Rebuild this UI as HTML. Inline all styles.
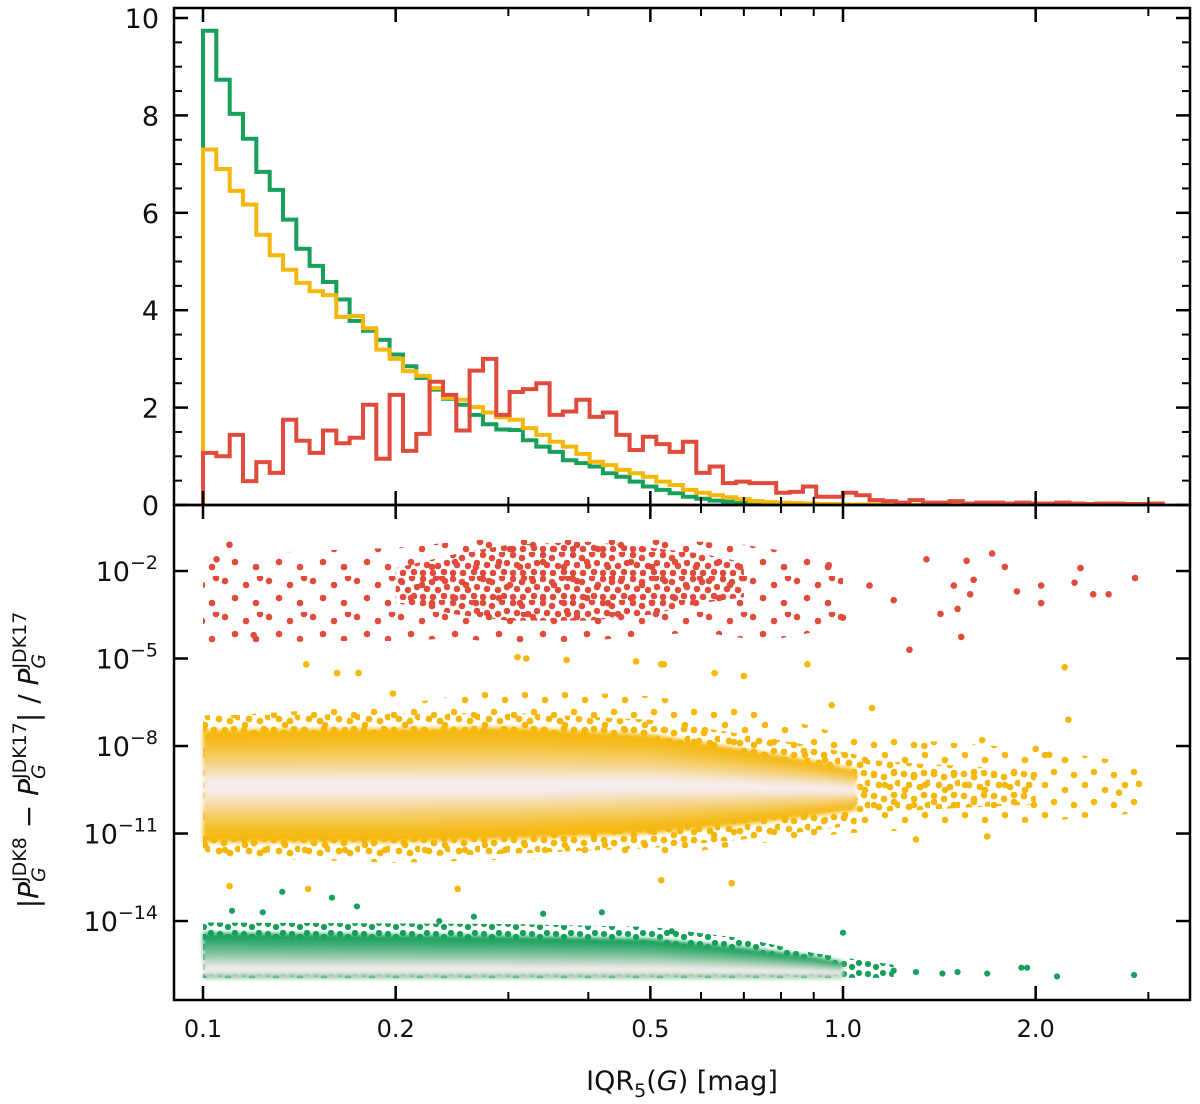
<!DOCTYPE html>
<html><head><meta charset="utf-8"><style>
html,body{margin:0;padding:0;background:#fff;}
#wrap{position:relative;width:1200px;height:1104px;overflow:hidden;font-family:"Liberation Sans","DejaVu Sans",sans-serif;}
svg text{font-family:"DejaVu Sans","Liberation Sans",sans-serif;fill:#111;}
#ytitle{position:absolute;left:30px;top:760px;transform:translate(-50%,-50%) rotate(-90deg);white-space:nowrap;font-family:"DejaVu Sans","Liberation Sans",sans-serif;font-size:28px;color:#111;}
.ms{display:inline-block;vertical-align:middle;line-height:1;position:relative;}
.ms .up{display:block;font-size:19px;font-style:normal;}
.ms .dn{display:block;font-size:19px;font-style:italic;}
</style></head><body>
<div id="wrap">
<svg id="svg" width="1200" height="1104" xmlns="http://www.w3.org/2000/svg">
<defs>
<filter id="blur" x="-2%" y="-20%" width="104%" height="140%"><feGaussianBlur stdDeviation="2"/></filter>
<pattern id="pRedDense" width="30" height="24" patternUnits="userSpaceOnUse">
<circle cx="3" cy="3" r="3.3" fill="#e04b3c"/><circle cx="12" cy="6" r="3.3" fill="#e04b3c"/><circle cx="22" cy="2" r="3.3" fill="#e04b3c"/><circle cx="7" cy="13" r="3.3" fill="#e04b3c"/><circle cx="18" cy="14" r="3.3" fill="#e04b3c"/><circle cx="27" cy="11" r="3.3" fill="#e04b3c"/><circle cx="3" cy="21" r="3.3" fill="#e04b3c"/><circle cx="13" cy="21" r="3.3" fill="#e04b3c"/><circle cx="24" cy="20" r="3.3" fill="#e04b3c"/></pattern>
<pattern id="pRedSparse" width="44" height="36" patternUnits="userSpaceOnUse">
<circle cx="5" cy="5" r="3.3" fill="#e04b3c"/><circle cx="26" cy="9" r="3.3" fill="#e04b3c"/><circle cx="15" cy="22" r="3.3" fill="#e04b3c"/><circle cx="36" cy="27" r="3.3" fill="#e04b3c"/><circle cx="40" cy="2" r="3.3" fill="#e04b3c"/></pattern>
<pattern id="pYel" width="30" height="22" patternUnits="userSpaceOnUse">
<circle cx="4" cy="4" r="3.4" fill="#f5b70a"/><circle cx="14" cy="7" r="3.4" fill="#f5b70a"/><circle cx="24" cy="3" r="3.4" fill="#f5b70a"/><circle cx="9" cy="15" r="3.4" fill="#f5b70a"/><circle cx="20" cy="17" r="3.4" fill="#f5b70a"/><circle cx="28" cy="13" r="3.4" fill="#f5b70a"/></pattern>
<pattern id="pYelSparse" width="40" height="30" patternUnits="userSpaceOnUse">
<circle cx="5" cy="5" r="3.3" fill="#f5b70a"/><circle cx="25" cy="10" r="3.3" fill="#f5b70a"/><circle cx="14" cy="22" r="3.3" fill="#f5b70a"/><circle cx="34" cy="25" r="3.3" fill="#f5b70a"/></pattern>
<pattern id="pGrn" width="24" height="10" patternUnits="userSpaceOnUse"><circle cx="4" cy="4" r="3.1" fill="#16a05a"/><circle cx="12" cy="7" r="3.1" fill="#16a05a"/><circle cx="19" cy="3" r="3.1" fill="#16a05a"/></pattern>
<clipPath id="clipBot"><rect x="175" y="506" width="1014" height="493"/></clipPath>
<clipPath id="clipTop"><rect x="175" y="9" width="1014" height="495"/></clipPath>
</defs>
<g id="gTop" clip-path="url(#clipTop)"></g>
<g id="gBot" clip-path="url(#clipBot)"></g>
<g id="gAxes"></g>
</svg>
<div id="ytitle">|<i>P</i><span class="ms"><span class="up">JDK8</span><span class="dn">G</span></span> − <i>P</i><span class="ms"><span class="up">JDK17</span><span class="dn">G</span></span>| / <i>P</i><span class="ms"><span class="up">JDK17</span><span class="dn">G</span></span></div>
</div>
<script>
// ---------- data ----------
const binStart = 0.1;          // first bin edge (mag)
const binLogWidth = 0.02083;   // bin width in dex
const histGreen = [9.74,8.73,8.03,7.52,6.84,6.47,5.86,5.26,4.91,4.58,4.22,3.78,3.58,3.39,3.09,2.85,2.61,2.37,2.18,2.06,1.85,1.66,1.55,1.54,1.33,1.2,1.09,0.92,0.86,0.79,0.65,0.58,0.48,0.38,0.31,0.24,0.17,0.13,0.09,0.07,0.05,0.03,0.02,0.01,0.01,0.01,0,0,0,0,0,0,0,0,0,0,0,0,0,0,0,0,0,0,0,0,0,0,0,0,0,0];
const histYellow = [7.3,6.9,6.45,6.17,5.55,5.13,4.83,4.56,4.39,4.31,3.86,3.88,3.63,3.19,3.0,2.75,2.65,2.4,2.2,2.16,2.01,1.9,1.8,1.75,1.58,1.44,1.3,1.2,1.05,0.89,0.82,0.72,0.65,0.58,0.48,0.41,0.31,0.25,0.2,0.16,0.12,0.08,0.06,0.05,0.04,0.03,0.02,0.02,0.01,0.01,0.01,0.01,0,0,0,0,0,0,0,0,0,0,0,0,0,0,0,0,0,0,0,0];
const histRed = [1.07,1.0,1.44,0.49,0.88,0.66,1.75,1.32,1.07,1.53,1.27,1.38,2.06,0.95,2.26,1.11,1.46,2.53,2.26,1.53,2.76,3.0,1.85,2.32,2.38,2.5,1.85,1.92,2.16,1.81,1.9,1.44,1.13,1.4,1.25,1.09,1.3,0.66,0.79,0.45,0.48,0.45,0.45,0.25,0.27,0.38,0.17,0.17,0.25,0.2,0.1,0.08,0.05,0.1,0.05,0.05,0.08,0.03,0.05,0.05,0.03,0.05,0.03,0.03,0.05,0.03,0.02,0.03,0.03,0.02,0.02,0.03];
const yTicksTop = [0,2,4,6,8,10];
const xTickLabels = ["0.1","0.2","0.5","1.0","2.0"];
const xTickValues = [0.1,0.2,0.5,1.0,2.0];
const xMinorValues = [0.3,0.4,0.6,0.7,0.8,0.9,3.0];
const yTickExpBot = [-2,-5,-8,-11,-14];

// red cloud envelopes (log10 of y)
const redX = [0.1,0.15,0.2,0.25,0.3,0.4,0.5,0.6,0.7,0.8,0.9,1.0];
const redHi = [-1.5,-1.3,-1.2,-1.0,-0.8,-0.8,-0.9,-1.0,-1.1,-1.3,-1.4,-1.6];
const redLo = [-4.6,-4.4,-4.4,-4.3,-4.5,-4.4,-4.2,-4.1,-4.3,-4.3,-4.1,-4.0];
const redCoreX = [0.2,0.25,0.3,0.4,0.5,0.6,0.7];
const redCoreHi = [-1.9,-1.4,-1.1,-1.0,-1.2,-1.4,-1.7];
const redCoreLo = [-3.1,-3.5,-3.7,-3.7,-3.5,-3.1,-2.9];
const redPtX = [2.86,2.35,2.3,2.46,2.6,2.04,2.04,1.87,1.79,1.71,1.56,1.6,1.58,1.53,1.51,1.42,1.49,1.35,1.27,0.11,0.12,0.105,1.1,1.2,0.95,1.0];
const redPtL = [-2.24,-1.9,-2.4,-2.8,-2.8,-2.5,-3.1,-2.7,-1.86,-1.4,-1.65,-2.3,-2.8,-4.26,-3.3,-3.47,-2.5,-1.6,-4.7,-1.1,-4.2,-1.6,-2.5,-3.0,-1.8,-3.6];

// yellow band
const yelX = [0.1,0.2,0.3,0.5,0.7,0.9,1.05];
const yelHi = [-7.45,-7.4,-7.35,-7.6,-8.1,-8.5,-8.8];
const yelLo = [-11.3,-11.3,-11.2,-11.0,-10.7,-10.4,-10.2];
const yelC = [-9.4,-9.4,-9.4,-9.35,-9.4,-9.45,-9.5];
const yelOutX = [0.1,0.2,0.3,0.5,0.7,1.0,1.5,2.0,2.9];
const yelOutHi = [-7.0,-6.6,-6.0,-6.3,-6.7,-7.6,-7.9,-8.1,-8.6];
const yelOutLo = [-11.8,-12.0,-11.9,-11.8,-11.4,-11.0,-10.8,-10.6,-10.3];
const yelPtX = [2.22,2.25,0.88,0.525,0.63,0.70,1.11,0.96,1.65,2.0,2.1,1.34,0.52,0.67,1.68,1.3,0.11,0.146,0.25,0.145,0.162,0.175,0.198,0.31,0.32,0.37,0.475,0.52,2.9,2.7];
const yelPtL = [-5.3,-7.1,-5.2,-5.2,-5.5,-5.6,-6.7,-6.6,-7.8,-8.1,-8.3,-8.0,-12.6,-12.7,-11.1,-11.2,-12.8,-12.9,-12.9,-5.2,-5.5,-5.5,-6.2,-4.95,-5.0,-5.05,-5.1,-5.2,-9.3,-9.6];

// green band
const grnX = [0.1,0.3,0.5,0.7,0.9,1.0];
const grnHi = [-14.4,-14.5,-14.6,-14.9,-15.2,-15.4];
const grnLo = [-15.95,-15.95,-15.95,-15.95,-15.95,-15.95];
const grnC = [-15.7,-15.7,-15.7,-15.72,-15.75,-15.78];
const grnOutX = [0.1,0.3,0.5,0.7,0.9,1.2];
const grnOutHi = [-14.05,-14.1,-14.2,-14.6,-15.1,-15.5];
const grnPtX = [0.54,1.0,2.16,2.85,1.9,1.94,1.68,1.51,1.43,0.133,0.159,0.174,0.111,0.124,0.34,0.42,0.265,0.234,1.2,1.3];
const grnPtL = [-14.35,-14.4,-15.9,-15.85,-15.6,-15.6,-15.8,-15.75,-15.8,-13.0,-13.2,-13.5,-13.65,-13.7,-13.75,-13.7,-13.85,-14.0,-15.7,-15.75];

// ---------- scales ----------
const X0 = 203, PX_PER_DEX = 640;
function xs(v){ return X0 + PX_PER_DEX*Math.log10(v/0.1); }
function yTop(v){ return 505 - v*48.7; }
function yBot(L){ return 571 + (-2 - L)*29.17; }
const NS = "http://www.w3.org/2000/svg";
function mk(tag, attrs, parent){ const e=document.createElementNS(NS,tag); for(const k in attrs) e.setAttribute(k,attrs[k]); parent.appendChild(e); return e; }

const gTop = document.getElementById('gTop');
const gBot = document.getElementById('gBot');
const gAx = document.getElementById('gAxes');

// ---------- histograms ----------
function edge(k){ return xs(binStart*Math.pow(10,k*binLogWidth)); }
function histPath(arr){
  let d = "M"+edge(0)+","+yTop(0);
  for(let k=0;k<arr.length;k++){ d += " V"+yTop(arr[k]).toFixed(1)+" H"+edge(k+1).toFixed(1); }
  d += " V"+yTop(0);
  return d;
}
[[histGreen,"#16a05a","hist-green"],[histYellow,"#f5b70a","hist-yellow"],[histRed,"#e04b3c","hist-red"]].forEach(s=>{
  const p = mk('path',{d:histPath(s[0]),fill:"none",stroke:s[1],"stroke-width":4,"stroke-linejoin":"miter"},gTop);
  
  
});

// ---------- bands ----------
function bandPoly(xa, hi, lo){
  let pts=[];
  for(let i=0;i<xa.length;i++) pts.push(xs(xa[i]).toFixed(1)+","+yBot(hi[i]).toFixed(1));
  for(let i=xa.length-1;i>=0;i--) pts.push(xs(xa[i]).toFixed(1)+","+yBot(lo[i]).toFixed(1));
  return pts.join(" ");
}
function lerpArr(a,b,t){ return a.map((v,i)=>v+(b[i]-v)*t); }
function mix(c1,c2,t){ return "rgb("+c1.map((v,i)=>Math.round(v+(c2[i]-v)*t)).join(",")+")"; }
const pale=[245,236,236];

let e;
// red cloud
e = mk('polygon',{points:bandPoly(redX,redHi,redLo),fill:"url(#pRedSparse)"},gBot);


e = mk('polygon',{points:bandPoly(redCoreX,redCoreHi,redCoreLo),fill:"url(#pRedDense)"},gBot);


for(let i=0;i<redPtX.length;i++){
  e = mk('circle',{cx:xs(redPtX[i]),cy:yBot(redPtL[i]),r:3.3,fill:"#e04b3c"},gBot);
  
  
}

// yellow
e = mk('polygon',{points:bandPoly(yelOutX,yelOutHi,yelOutLo),fill:"url(#pYelSparse)"},gBot);


e = mk('polygon',{points:bandPoly(yelX,yelHi.map(v=>v+0.5),yelLo.map(v=>v-0.5)),fill:"url(#pYel)"},gBot);


e = mk('polygon',{points:bandPoly([1.0,1.3,1.6,2.0],[-8.4,-8.6,-8.7,-8.9],[-10.3,-10.2,-10.1,-10.0]),fill:"url(#pYel)"},gBot);


const gy = mk('g',{filter:"url(#blur)"},gBot);


for(let s=0;s<8;s++){
  const t=s/8;
  mk('polygon',{points:bandPoly(yelX,lerpArr(yelHi,yelC,t),lerpArr(yelLo,yelC,t)),fill:mix([245,183,10],pale,Math.min(1,Math.pow(t,1.3)*1.25))},gy);
}
for(let i=0;i<yelPtX.length;i++){
  e = mk('circle',{cx:xs(yelPtX[i]),cy:yBot(yelPtL[i]),r:3.3,fill:"#f5b70a"},gBot);
  
  
}

// green
e = mk('polygon',{points:bandPoly(grnOutX,grnOutHi,grnOutX.map(()=>-15.95)),fill:"url(#pGrn)"},gBot);


const gg = mk('g',{filter:"url(#blur)"},gBot);


for(let s=0;s<6;s++){
  const t=s/6;
  mk('polygon',{points:bandPoly(grnX,lerpArr(grnHi,grnC,t),lerpArr(grnLo,grnC,t*0.6)),fill:mix([22,160,90],pale,Math.min(1,Math.pow(t,1.2)*1.2))},gg);
}
for(let i=0;i<grnPtX.length;i++){
  e = mk('circle',{cx:xs(grnPtX[i]),cy:yBot(grnPtL[i]),r:3.1,fill:"#16a05a"},gBot);
  
  
}

// ---------- axes ----------
e = mk('rect',{x:174,y:8,width:1016,height:497,fill:"none",stroke:"#000","stroke-width":2.5},gAx);


e = mk('rect',{x:174,y:505,width:1016,height:495,fill:"none",stroke:"#000","stroke-width":2.5},gAx);


function line(x1,y1,x2,y2,w){ return mk('line',{x1:x1,y1:y1,x2:x2,y2:y2,stroke:"#000","stroke-width":w||2},gAx); }
[[8,1],[505,-1],[505,1],[1000,-1]].forEach(([y,dir])=>{
  xTickValues.forEach(v=>line(xs(v),y,xs(v),y+dir*14,2.5));
  xMinorValues.forEach(v=>line(xs(v),y,xs(v),y+dir*8,2));
});
for(let v=0;v<=10;v+=0.5){
  const major = (v%2===0);
  const L = major?14:8;
  line(174,yTop(v),174+L,yTop(v),major?2.5:2);
  line(1190,yTop(v),1190-L,yTop(v),major?2.5:2);
}
yTicksTop.forEach(v=>{
  const t = mk('text',{x:159,y:yTop(v)+10,"text-anchor":"end","font-size":27},gAx);
  t.textContent = v;
  
  
});
yTickExpBot.forEach(L=>{
  line(174,yBot(L),188,yBot(L),2.5);
  line(1190,yBot(L),1176,yBot(L),2.5);
  const t = mk('text',{x:158,y:yBot(L)+10,"text-anchor":"end","font-size":27},gAx);
  
  
  const a = document.createElementNS(NS,'tspan'); a.textContent="10"; t.appendChild(a);
  const b = document.createElementNS(NS,'tspan'); b.setAttribute('dy','-12'); b.setAttribute('font-size','19'); b.textContent="\u2212"+Math.abs(L); t.appendChild(b);
});
xTickValues.forEach((v,i)=>{
  const t = mk('text',{x:xs(v),y:1037,"text-anchor":"middle","font-size":24},gAx);
  t.textContent = xTickLabels[i];
  
  
});
const xt = mk('text',{x:682,y:1090,"text-anchor":"middle","font-size":27},gAx);


xt.setAttribute('xml:space','preserve');
xt.innerHTML = 'IQR<tspan font-size="19" dy="7">5</tspan><tspan dy="-7">(</tspan><tspan font-style="italic">G</tspan><tspan>)  [mag]</tspan>';
</script>
</body></html>
